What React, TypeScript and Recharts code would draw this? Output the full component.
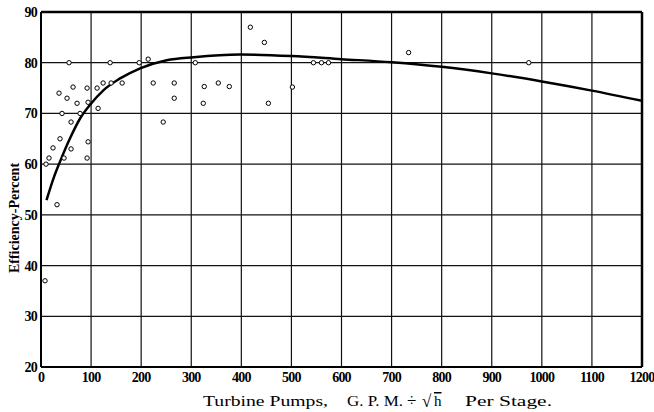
import React from 'react';
import {
  ComposedChart,
  Line,
  Scatter,
  XAxis,
  YAxis,
  CartesianGrid,
  ReferenceLine,
  Label,
} from 'recharts';

// x = G.P.M. / sqrt(h) per stage, y = efficiency percent
const testX = [56, 138, 196, 214, 308, 36, 52, 64, 92, 72, 94, 112, 124, 140, 162, 114, 42, 78, 60, 38, 24, 60, 94, 16, 46, 92, 10, 224, 266, 266, 244, 326, 324, 354, 376, 418, 446, 734, 502, 454, 544, 560, 574, 974, 32, 8];
const testY = [80, 80, 80, 80.7, 80, 74, 73, 75.2, 75, 72, 72.2, 75, 76, 76, 76, 71, 70, 70, 68.3, 65, 63.2, 63, 64.4, 61.2, 61.2, 61.2, 60, 76, 76, 73, 68.3, 75.3, 72, 76, 75.3, 87, 84, 82, 75.2, 72, 80, 80, 80, 80, 52, 37];

const curveX = [11, 25, 38, 58, 78, 98, 125, 158, 198, 251, 305, 398, 500, 600, 700, 800, 900, 1000, 1100, 1200];
const curveY = [52.9, 57.2, 60.5, 65.1, 69, 71.7, 74.6, 76.9, 78.9, 80.5, 81.1, 81.6, 81.3, 80.7, 80.1, 79.2, 77.9, 76.3, 74.5, 72.5];

const xTicks = [0, 100, 200, 300, 400, 500, 600, 700, 800, 900, 1000, 1100, 1200];
const yTicks = [20, 30, 40, 50, 60, 70, 80, 90];

const points = testX.map((x, i) => ({ x, y: testY[i] }));
const curve = curveX.map((x, i) => ({ x, y: curveY[i] }));

const serif = '"Liberation Serif", "DejaVu Serif", serif';
const tickStyle = { fontFamily: serif, fontWeight: 700, fontSize: 14, fill: '#000', letterSpacing: -0.8 };

const OpenDot = (props: any) => (
  <circle cx={props.cx} cy={props.cy} r={2.2} fill="#fff" stroke="#000" strokeWidth={1} />
);

const XTitle = () => (
  <g fontFamily={serif} fontSize={14} fill="#000">
    <text x={203} y={406} textLength={125} lengthAdjust="spacingAndGlyphs">Turbine Pumps,</text>
    <text x={347} y={406} textLength={56} lengthAdjust="spacingAndGlyphs">G. P. M.</text>
    <text x={407} y={406} fontSize={17}>÷</text>
    <text x={422} y={407} fontSize={17}>√</text>
    <text x={434} y={406} fontSize={15} textDecoration="overline">h</text>
    <text x={465} y={406} textLength={87} lengthAdjust="spacingAndGlyphs">Per Stage.</text>
  </g>
);

const YTitle = () => (
  <text
    x={14}
    y={218}
    transform="rotate(-90 14 218)"
    textAnchor="middle"
    dominantBaseline="central"
    fontFamily={serif}
    fontWeight={700}
    fontSize={14}
    fill="#000"
  >
    Efficiency-Percent
  </text>
);

export default function App() {
  return (
    <div style={{ width: 654, height: 412, background: '#fff' }}>
      <style>{'body{margin:0;background:#fff}'}</style>
      <ComposedChart width={654} height={412} margin={{ top: 12, right: 12, bottom: 0, left: 0 }}>
        <CartesianGrid stroke="#111" strokeWidth={1.2} />
        <XAxis
          type="number"
          dataKey="x"
          domain={[0, 1200]}
          ticks={xTicks}
          interval={0}
          height={45}
          tickSize={0}
          tickMargin={5}
          tick={tickStyle}
          axisLine={{ stroke: '#000', strokeWidth: 2 }}
        >
          <Label content={<XTitle />} />
        </XAxis>
        <YAxis
          type="number"
          dataKey="y"
          domain={[20, 90]}
          ticks={yTicks}
          interval={0}
          width={41}
          tickSize={0}
          tickMargin={4}
          tick={tickStyle}
          axisLine={{ stroke: '#000', strokeWidth: 2 }}
        >
          <Label content={<YTitle />} />
        </YAxis>
        <ReferenceLine y={90} stroke="#000" strokeWidth={2.5} />
        <ReferenceLine x={1200} stroke="#000" strokeWidth={2.5} />
        <Scatter data={points} dataKey="y" shape={OpenDot} isAnimationActive={false} />
        <Line
          data={curve}
          dataKey="y"
          type="monotone"
          stroke="#000"
          strokeWidth={2.5}
          dot={false}
          activeDot={false}
          isAnimationActive={false}
        />
      </ComposedChart>
    </div>
  );
}
